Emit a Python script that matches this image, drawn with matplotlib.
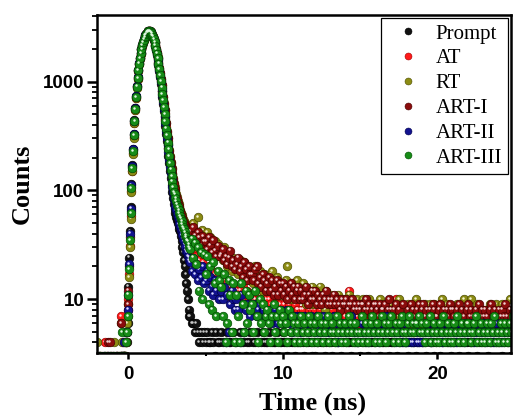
import numpy as np
import matplotlib
matplotlib.use("Agg")
import matplotlib.pyplot as plt
from matplotlib.transforms import ScaledTranslation
from matplotlib.lines import Line2D
from matplotlib.ticker import FixedLocator, FixedFormatter, LogLocator, NullFormatter

# ---------------- data ----------------
series_names = ["Prompt", "AT", "RT", "ART-I", "ART-II", "ART-III"]

time_pre = np.linspace(-2.0, -0.6, 15)     # ns
time_peak = np.linspace(-0.5, 3.95, 90)    # ns
time_tail = np.linspace(4.0, 24.9, 210)    # ns

prompt_pre = [2, 3, 2, 2, 3, 2, 2, 3, 2, 2, 3, 2, 2, 3, 2]
at_pre = [2, 2, 3, 2, 2, 4, 3, 2, 2, 3, 2, 2, 3, 2, 3]
rt_pre = [4, 2, 3, 2, 2, 3, 2, 2, 3, 2, 2, 4, 2, 3, 2]
art1_pre = [3, 2, 2, 3, 2, 2, 3, 4, 4, 2, 3, 2, 2, 3, 2]
art2_pre = [2, 3, 2, 2, 3, 2, 2, 3, 2, 3, 2, 2, 3, 2, 2]
art3_pre = [2, 2, 3, 2, 2, 3, 2, 2, 3, 2, 2, 3, 2, 2, 3]

prompt_peak = [
    2, 3, 2, 3, 2, 3, 3, 4, 4, 6,
    13, 24, 42, 70, 115, 170, 240, 330, 440, 570,
    735, 915, 1100, 1290, 1480, 1660, 1840, 2010, 2170, 2320,
    2445, 2560, 2660, 2745, 2815, 2862, 2890, 2898, 2885, 2842,
    2770, 2675, 2560, 2425, 2270, 2105, 1930, 1755, 1580, 1410,
    1245, 1090, 950, 825, 715, 618, 532, 456, 390, 333,
    284, 243, 208, 178, 152, 130, 112, 97, 85, 75,
    68, 62, 57, 53, 50, 47, 44, 42, 38, 34,
    30, 27, 23, 20, 17, 14, 12, 10, 8, 7]
at_peak = [
    7, 3, 2, 4, 3, 2, 3, 4, 5, 8,
    10, 17, 31, 58, 98, 152, 222, 312, 420, 548,
    705, 885, 1065, 1255, 1445, 1630, 1805, 1975, 2140, 2290,
    2420, 2542, 2645, 2736, 2806, 2858, 2888, 2900, 2892, 2855,
    2785, 2698, 2590, 2462, 2315, 2158, 1990, 1822, 1655, 1488,
    1310, 1160, 1020, 890, 780, 680, 590, 510, 440, 380,
    330, 285, 247, 213, 185, 161, 141, 125, 111, 100,
    92, 86, 80, 74, 69, 64, 60, 56, 52, 49,
    46, 43, 41, 38, 36, 34, 32, 31, 29, 28]
rt_peak = [
    6, 3, 4, 2, 3, 3, 2, 4, 6, 7,
    9, 16, 30, 55, 96, 150, 218, 305, 415, 545,
    700, 880, 1060, 1250, 1440, 1625, 1800, 1970, 2135, 2285,
    2415, 2538, 2642, 2733, 2804, 2856, 2887, 2899, 2893, 2857,
    2788, 2702, 2595, 2468, 2322, 2166, 2000, 1833, 1667, 1500,
    1342, 1195, 1058, 930, 820, 720, 630, 550, 480, 420,
    350, 305, 266, 233, 205, 181, 161, 144, 130, 118,
    108, 100, 93, 86, 80, 75, 70, 66, 62, 59,
    56, 54, 52, 50, 49, 47, 46, 45, 44, 43]
art1_peak = [
    6, 2, 3, 3, 2, 3, 4, 3, 5, 9,
    12, 20, 37, 64, 108, 163, 235, 326, 436, 566,
    725, 905, 1085, 1275, 1465, 1645, 1825, 1995, 2155, 2305,
    2432, 2552, 2652, 2742, 2812, 2862, 2891, 2901, 2892, 2853,
    2786, 2700, 2593, 2466, 2320, 2163, 1996, 1828, 1661, 1494,
    1336, 1190, 1052, 925, 815, 716, 626, 546, 476, 416,
    345, 300, 262, 229, 201, 177, 157, 140, 126, 114,
    104, 96, 89, 83, 77, 72, 68, 64, 60, 57,
    54, 52, 50, 48, 47, 45, 44, 43, 42, 41]
art2_peak = [
    3, 2, 3, 2, 4, 3, 2, 5, 5, 8,
    11, 21, 40, 68, 112, 168, 238, 330, 438, 568,
    730, 910, 1090, 1280, 1470, 1650, 1830, 2000, 2160, 2310,
    2436, 2555, 2654, 2743, 2812, 2861, 2890, 2899, 2889, 2848,
    2776, 2684, 2572, 2440, 2288, 2126, 1955, 1783, 1611, 1440,
    1280, 1130, 990, 860, 750, 650, 560, 482, 413, 354,
    304, 260, 223, 192, 165, 143, 124, 108, 96, 85,
    78, 71, 66, 61, 57, 53, 49, 46, 43, 41,
    39, 36, 34, 32, 30, 28, 27, 25, 24, 23]
art3_peak = [
    3, 2, 5, 3, 2, 3, 3, 4, 5, 7,
    11, 19, 35, 62, 105, 160, 230, 320, 430, 560,
    720, 900, 1080, 1270, 1460, 1640, 1820, 1990, 2150, 2300,
    2430, 2550, 2650, 2740, 2810, 2860, 2890, 2900, 2890, 2850,
    2780, 2690, 2580, 2450, 2300, 2140, 1970, 1800, 1630, 1460,
    1300, 1150, 1010, 880, 770, 670, 580, 500, 430, 370,
    320, 275, 238, 205, 178, 155, 136, 120, 107, 96,
    92, 85, 80, 74, 70, 66, 62, 58, 55, 52,
    49, 46, 44, 41, 39, 37, 35, 34, 32, 30]

prompt_tail = [
    7, 6, 6, 5, 6, 5, 4, 5, 4, 5,
    4, 5, 4, 4, 5, 4, 3, 5, 4, 4,
    5, 4, 3, 4, 5, 4, 4, 3, 5, 4,
    4, 3, 5, 4, 4, 5, 3, 4, 4, 5,
    3, 4, 4, 5, 4, 3, 4, 5, 4, 4,
    4, 5, 3, 4, 4, 4, 5, 3, 4, 4,
    5, 4, 4, 3, 4, 5, 4, 4, 3, 4,
    4, 4, 5, 4, 3, 4, 4, 5, 4, 3,
    4, 3, 4, 4, 5, 4, 4, 3, 4, 5,
    4, 4, 3, 5, 4, 4, 4, 5, 3, 4,
    5, 4, 4, 4, 3, 4, 5, 4, 4, 4,
    3, 4, 5, 4, 4, 3, 4, 4, 5, 4,
    4, 5, 4, 3, 4, 4, 4, 5, 4, 3,
    4, 4, 4, 5, 3, 4, 4, 4, 5, 4,
    4, 3, 5, 4, 4, 4, 3, 4, 4, 5,
    4, 4, 4, 3, 5, 4, 4, 4, 3, 4,
    5, 4, 3, 4, 4, 5, 4, 4, 4, 3,
    4, 4, 5, 4, 3, 4, 4, 5, 4, 4,
    3, 4, 4, 4, 5, 4, 3, 4, 4, 5,
    4, 5, 4, 3, 4, 4, 4, 5, 4, 4,
    4, 4, 3, 4, 5, 4, 4, 4, 3, 4]
at_tail = [
    28, 24, 27, 21, 25, 19, 23, 20, 22, 17,
    19, 16, 20, 15, 18, 14, 17, 13, 16, 14,
    14, 12, 15, 11, 14, 12, 13, 10, 13, 11,
    12, 11, 12, 11, 13, 10, 11, 12, 10, 11,
    10, 11, 10, 9, 10, 11, 9, 10, 9, 10,
    9, 10, 9, 8, 9, 10, 8, 9, 9, 8,
    8, 9, 8, 7, 9, 8, 8, 7, 9, 8,
    8, 7, 8, 8, 7, 9, 7, 8, 7, 8,
    7, 8, 7, 7, 8, 6, 7, 8, 7, 7,
    7, 6, 8, 7, 7, 6, 7, 7, 8, 6,
    7, 7, 6, 12, 10, 7, 6, 7, 7, 6,
    6, 7, 7, 6, 7, 6, 8, 6, 7, 6,
    7, 6, 6, 7, 6, 7, 6, 7, 6, 6,
    6, 7, 6, 10, 6, 7, 6, 6, 7, 6,
    6, 6, 7, 6, 5, 7, 6, 6, 7, 6,
    6, 7, 6, 6, 7, 8, 6, 6, 7, 6,
    6, 6, 7, 6, 6, 7, 6, 6, 6, 7,
    6, 7, 6, 6, 7, 6, 6, 6, 7, 8,
    6, 6, 6, 7, 6, 6, 7, 6, 6, 6,
    7, 6, 6, 6, 7, 6, 6, 7, 6, 6,
    6, 6, 7, 6, 6, 6, 7, 6, 6, 7]
rt_tail = [
    45, 40, 50, 42, 36, 57, 40, 34, 43, 37,
    36, 41, 29, 37, 31, 27, 34, 28, 32, 25,
    27, 23, 30, 25, 20, 26, 22, 18, 24, 21,
    21, 17, 23, 19, 15, 22, 17, 20, 15, 18,
    18, 14, 20, 16, 13, 18, 15, 12, 17, 14,
    15, 12, 17, 18, 13, 11, 16, 12, 14, 11,
    13, 11, 15, 20, 12, 10, 14, 11, 13, 15,
    12, 10, 13, 14, 10, 9, 12, 11, 9, 13,
    11, 9, 12, 10, 13, 9, 11, 8, 12, 10,
    10, 11, 9, 10, 10, 9, 11, 10, 9, 10,
    9, 10, 9, 11, 9, 10, 8, 9, 10, 9,
    9, 8, 10, 9, 9, 8, 10, 9, 8, 9,
    8, 9, 9, 10, 8, 9, 8, 7, 9, 8,
    9, 8, 8, 9, 7, 10, 8, 9, 8, 8,
    8, 9, 7, 8, 9, 8, 10, 8, 7, 8,
    8, 7, 9, 8, 8, 9, 7, 8, 9, 8,
    7, 8, 6, 10, 7, 8, 9, 6, 7, 8,
    8, 7, 8, 9, 8, 7, 8, 10, 8, 7,
    7, 8, 10, 8, 7, 8, 9, 7, 8, 8,
    8, 6, 8, 7, 9, 8, 6, 8, 9, 7,
    7, 8, 9, 7, 8, 7, 8, 10, 7, 8]
art1_tail = [
    42, 36, 46, 39, 34, 41, 37, 31, 38, 34,
    34, 29, 37, 31, 27, 35, 28, 25, 31, 25,
    26, 29, 23, 25, 21, 24, 28, 20, 23, 19,
    21, 24, 18, 20, 16, 22, 19, 15, 20, 17,
    17, 15, 19, 20, 14, 16, 13, 17, 15, 12,
    14, 16, 12, 15, 11, 13, 15, 11, 14, 12,
    14, 11, 13, 10, 12, 14, 11, 13, 10, 12,
    13, 10, 12, 10, 11, 13, 9, 11, 10, 12,
    10, 12, 9, 11, 10, 9, 11, 10, 12, 9,
    10, 9, 10, 11, 9, 10, 9, 8, 10, 9,
    9, 10, 8, 9, 9, 10, 8, 9, 8, 9,
    8, 9, 9, 8, 10, 8, 9, 7, 8, 9,
    9, 8, 7, 9, 8, 8, 9, 7, 8, 10,
    8, 7, 8, 9, 6, 8, 5, 6, 9, 7,
    5, 8, 7, 9, 8, 7, 6, 8, 9, 7,
    8, 9, 7, 8, 6, 8, 7, 9, 8, 7,
    7, 8, 9, 7, 8, 6, 8, 7, 9, 8,
    8, 7, 6, 8, 9, 7, 8, 7, 6, 8,
    9, 7, 8, 7, 6, 8, 7, 9, 7, 8,
    7, 8, 7, 6, 8, 9, 7, 8, 7, 6,
    8, 7, 8, 7, 9, 7, 6, 8, 7, 8]
art2_tail = [
    22, 18, 24, 17, 21, 15, 19, 16, 20, 14,
    15, 18, 12, 16, 13, 11, 15, 12, 14, 10,
    12, 10, 13, 4, 11, 5, 9, 12, 10, 8,
    10, 8, 4, 11, 9, 5, 8, 9, 11, 7,
    9, 8, 9, 7, 8, 9, 7, 8, 8, 7,
    8, 7, 8, 6, 7, 8, 7, 6, 7, 8,
    7, 6, 7, 8, 6, 7, 5, 7, 6, 7,
    6, 7, 5, 6, 7, 6, 5, 6, 7, 6,
    6, 5, 7, 6, 5, 6, 7, 5, 6, 6,
    5, 6, 6, 7, 5, 6, 4, 6, 5, 6,
    6, 5, 6, 5, 7, 6, 5, 6, 4, 5,
    5, 6, 5, 6, 5, 4, 6, 5, 6, 5,
    6, 5, 4, 6, 5, 6, 5, 7, 5, 6,
    5, 6, 5, 4, 6, 5, 6, 5, 4, 6,
    4, 4, 5, 4, 4, 6, 5, 4, 4, 5,
    4, 5, 6, 5, 6, 5, 4, 6, 5, 6,
    5, 6, 5, 4, 6, 5, 6, 5, 6, 4,
    6, 5, 4, 6, 5, 6, 5, 4, 6, 5,
    5, 6, 5, 6, 4, 5, 6, 5, 5, 6,
    6, 4, 5, 6, 5, 6, 5, 4, 6, 5,
    5, 6, 4, 5, 6, 5, 6, 5, 4, 6]
art3_tail = [
    29, 36, 24, 33, 21, 30, 12, 27, 10, 26,
    17, 25, 9, 20, 8, 22, 14, 7, 18, 15,
    13, 7, 17, 4, 6, 15, 11, 5, 14, 4,
    11, 7, 4, 14, 9, 5, 12, 6, 11, 8,
    9, 5, 12, 7, 4, 10, 6, 9, 5, 7,
    8, 6, 4, 7, 9, 5, 7, 4, 8, 6,
    7, 5, 6, 4, 8, 5, 7, 6, 4, 5,
    6, 4, 7, 5, 6, 4, 5, 7, 6, 4,
    5, 6, 4, 7, 5, 6, 4, 5, 6, 7,
    4, 5, 6, 5, 4, 7, 5, 6, 4, 5,
    6, 4, 5, 7, 6, 5, 4, 6, 5, 4,
    5, 7, 4, 5, 6, 4, 5, 6, 7, 5,
    4, 6, 5, 4, 7, 5, 6, 4, 5, 6,
    7, 5, 4, 6, 5, 4, 6, 7, 5, 4,
    5, 6, 7, 5, 6, 5, 6, 6, 7, 5,
    6, 5, 4, 6, 5, 7, 4, 5, 6, 4,
    5, 4, 6, 5, 7, 4, 5, 6, 4, 5,
    4, 6, 5, 7, 4, 5, 6, 4, 5, 6,
    6, 5, 4, 5, 6, 7, 4, 5, 6, 4,
    5, 4, 6, 5, 4, 6, 5, 7, 4, 5,
    4, 6, 5, 4, 6, 5, 4, 6, 5, 7]

x_ticks = [0, 10, 20]
x_tick_labels = ["0", "10", "20"]
y_ticks = [10, 100, 1000]
y_tick_labels = ["10", "100", "1000"]

# ---------------- style ----------------
face_colors = ["#111111", "#ff1a1a", "#8c8c14", "#8b0c0c", "#12128f", "#178c17"]
edge_colors = ["#000000", "#a00000", "#4d4d00", "#480000", "#00004a", "#004d00"]
light_colors = ["#c8c8c8", "#ffe0e0", "#f4f4d0", "#f0d0d0", "#d8d8ff", "#e0f8e0"]

time_all = np.concatenate([time_pre, time_peak, time_tail])
all_counts = [
    prompt_pre + prompt_peak + prompt_tail,
    at_pre + at_peak + at_tail,
    rt_pre + rt_peak + rt_tail,
    art1_pre + art1_peak + art1_tail,
    art2_pre + art2_peak + art2_tail,
    art3_pre + art3_peak + art3_tail,
]

fig = plt.figure(figsize=(5.14, 4.18), dpi=100)
ax = fig.add_axes([0.188, 0.1555, 0.807, 0.8075])

hl_offset = ax.transData + ScaledTranslation(-0.9 / 100, 1.3 / 100, fig.dpi_scale_trans)

for k, counts in enumerate(all_counts):
    c = np.array(counts, dtype=float)
    ax.scatter(time_all, c, s=38, c=face_colors[k], edgecolors=edge_colors[k],
               linewidths=0.5, zorder=2 + k)
    ax.scatter(time_all, c, s=3.2, c=light_colors[k], linewidths=0,
               transform=hl_offset, zorder=2.5 + k)

ax.set_yscale("log")
ax.set_xlim(-2.05, 24.8)
ax.set_ylim(3.2, 4050)

ax.xaxis.set_major_locator(FixedLocator(x_ticks))
ax.xaxis.set_major_formatter(FixedFormatter(x_tick_labels))
ax.xaxis.set_minor_locator(FixedLocator([5, 15]))
ax.yaxis.set_major_locator(FixedLocator(y_ticks))
ax.yaxis.set_major_formatter(FixedFormatter(y_tick_labels))
ax.yaxis.set_minor_locator(LogLocator(base=10, subs=np.arange(2, 10)))
ax.yaxis.set_minor_formatter(NullFormatter())

for side in ["left", "right", "top", "bottom"]:
    ax.spines[side].set_linewidth(1.8)
    ax.spines[side].set_zorder(20)

ax.tick_params(axis="y", which="major", direction="out", length=7, width=1.8, pad=2)
ax.tick_params(axis="y", which="minor", direction="out", length=3.5, width=1.3)
ax.tick_params(axis="x", which="major", direction="out", length=4, width=1.8, pad=5)
ax.tick_params(axis="x", which="minor", direction="out", length=2.5, width=1.5)

for lab in ax.get_xticklabels() + ax.get_yticklabels():
    lab.set_fontfamily("Liberation Sans")
    lab.set_fontweight("bold")
    lab.set_fontsize(13.5)

ax.set_xlabel("Time (ns)", fontfamily="Liberation Serif", fontweight="bold",
              fontsize=19)
ax.set_ylabel("Counts", fontfamily="Liberation Serif", fontweight="bold",
              fontsize=19)
ax.xaxis.set_label_coords(0.52, -0.115)
ax.yaxis.set_label_coords(-0.152, 0.5)

handles = [Line2D([], [], linestyle="none", marker="o", markersize=5,
                  markerfacecolor=face_colors[k], markeredgecolor=edge_colors[k],
                  markeredgewidth=0.4) for k in range(len(series_names))]
leg = ax.legend(handles, series_names, loc="upper right",
                bbox_to_anchor=(0.992, 0.993), borderaxespad=0, frameon=True,
                fancybox=False, edgecolor="black", framealpha=1,
                prop={"family": "Liberation Serif", "size": 15},
                handlelength=2.0, handletextpad=0.3, labelspacing=0.25,
                borderpad=0.3)
leg.get_frame().set_linewidth(0.9)
leg.set_zorder(30)

fig.savefig("out.png", dpi=100)
